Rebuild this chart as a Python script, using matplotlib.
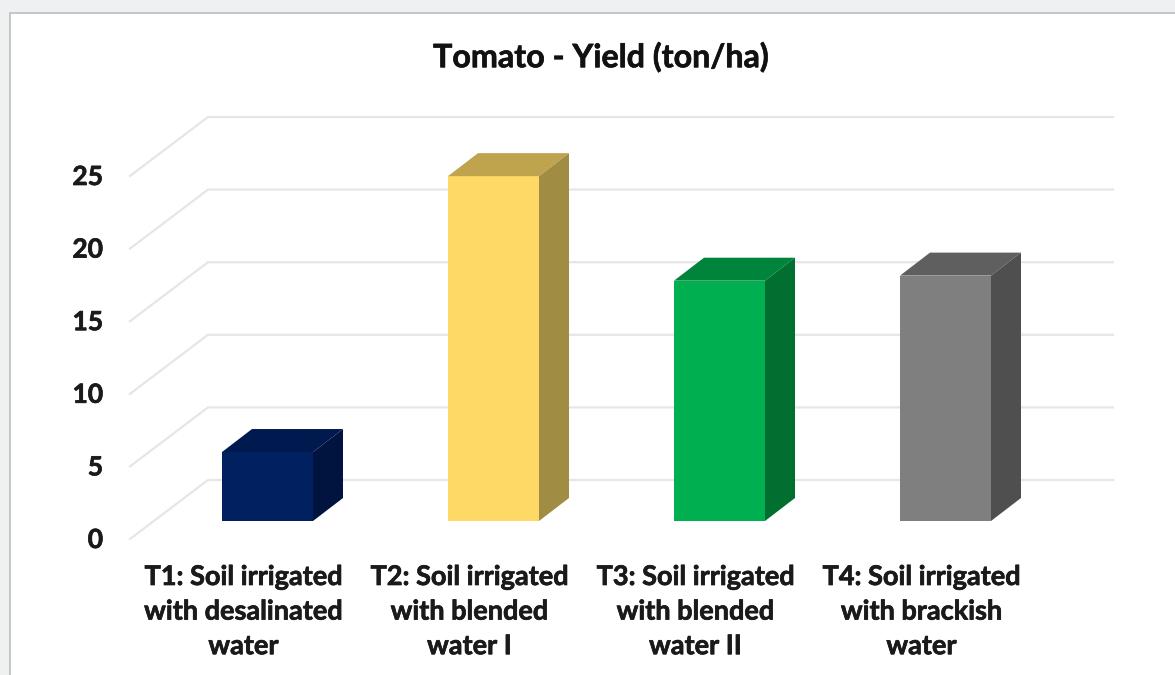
import matplotlib
matplotlib.use('Agg')
import matplotlib.pyplot as plt
import matplotlib.patheffects as pe
from matplotlib.patches import Rectangle

plt.rcParams['font.family'] = ['Lato', 'DejaVu Sans']

title = "Tomato - Yield (ton/ha)"
categories = ["T1: Soil irrigated\nwith desalinated\nwater",
              "T2: Soil irrigated\nwith blended\nwater I",
              "T3: Soil irrigated\nwith blended\nwater II",
              "T4: Soil irrigated\nwith brackish\nwater"]
yields = [4.75, 23.75, 16.55, 16.9]
y_ticks = [0, 5, 10, 15, 20, 25]

front_colors = ['#002060', '#FFD966', '#00B050', '#7F7F7F']
top_colors = ['#001A4F', '#BFA34D', '#00843C', '#5F5F5F']
side_colors = ['#00143F', '#A08C42', '#006F30', '#4F4F4F']

# pixel layout of the figure
W, H = 1175, 675
step_px = 226.0
unit_px = 363.0 / 25
x0_px, y0_px = 267.5, 521.0
bar_w = 91.0 / step_px
# depth of the 3d box, in data units
depth_x = 30.0 / step_px
depth_y = 23.0 / unit_px
# floor: front edge and back edge seen from the bar front plane
front_x, front_y = -137.5 / step_px, -18.0 / unit_px
back_x, back_y = -59.5 / step_px, 41.0 / unit_px
right_x = (1113 - x0_px) / step_px

# the reference text is heavier than Lato bold
heavy = [pe.withStroke(linewidth=0.5, foreground='#1A1A1A')]

fig = plt.figure(figsize=(W / 100, H / 100), dpi=100, facecolor='#EFF0F2')
fig.add_artist(Rectangle((10 / W, -0.01), 1.0, 1 - 13 / H + 0.01, transform=fig.transFigure,
                         facecolor='white', edgecolor='#BDBDBD', linewidth=1.2, zorder=-1))
ax = fig.add_axes([0, 0, 1, 1])
ax.set_xlim(-x0_px / step_px, (W - x0_px) / step_px)
ax.set_ylim((y0_px - H) / unit_px, y0_px / unit_px)
ax.axis('off')

for v in y_ticks:
    ax.plot([front_x, back_x, right_x], [v + front_y, v + back_y, v + back_y],
            color='#E6E6E6', linewidth=1.6, zorder=1, solid_joinstyle='miter')
    ax.text(front_x - 27 / step_px, v + front_y - 1 / unit_px, str(v), ha='right', va='center',
            fontsize=19, fontweight='bold', color='#1A1A1A', path_effects=heavy)

for i, val in enumerate(yields):
    l, r = i - bar_w / 2, i + bar_w / 2
    ax.fill([l, r, r, l], [0, 0, val, val], color=front_colors[i], linewidth=0, zorder=3)
    ax.fill([l, r, r + depth_x, l + depth_x], [val, val, val + depth_y, val + depth_y],
            color=top_colors[i], linewidth=0, zorder=3)
    ax.fill([r, r + depth_x, r + depth_x, r], [0, depth_y, val + depth_y, val],
            color=side_colors[i], linewidth=0, zorder=3)
    ax.text(i - 24 / step_px, -44 / unit_px, categories[i], ha='center', va='top', fontsize=19.5,
            fontweight='bold', color='#1A1A1A', linespacing=1.53, path_effects=heavy)

ax.text((601 - x0_px) / step_px, (y0_px - 57) / unit_px, title, ha='center', va='center',
        fontsize=23.2, fontweight='bold', color='#111111', path_effects=heavy)

fig.savefig('out.png', dpi=100, facecolor=fig.get_facecolor())
plt.close(fig)
